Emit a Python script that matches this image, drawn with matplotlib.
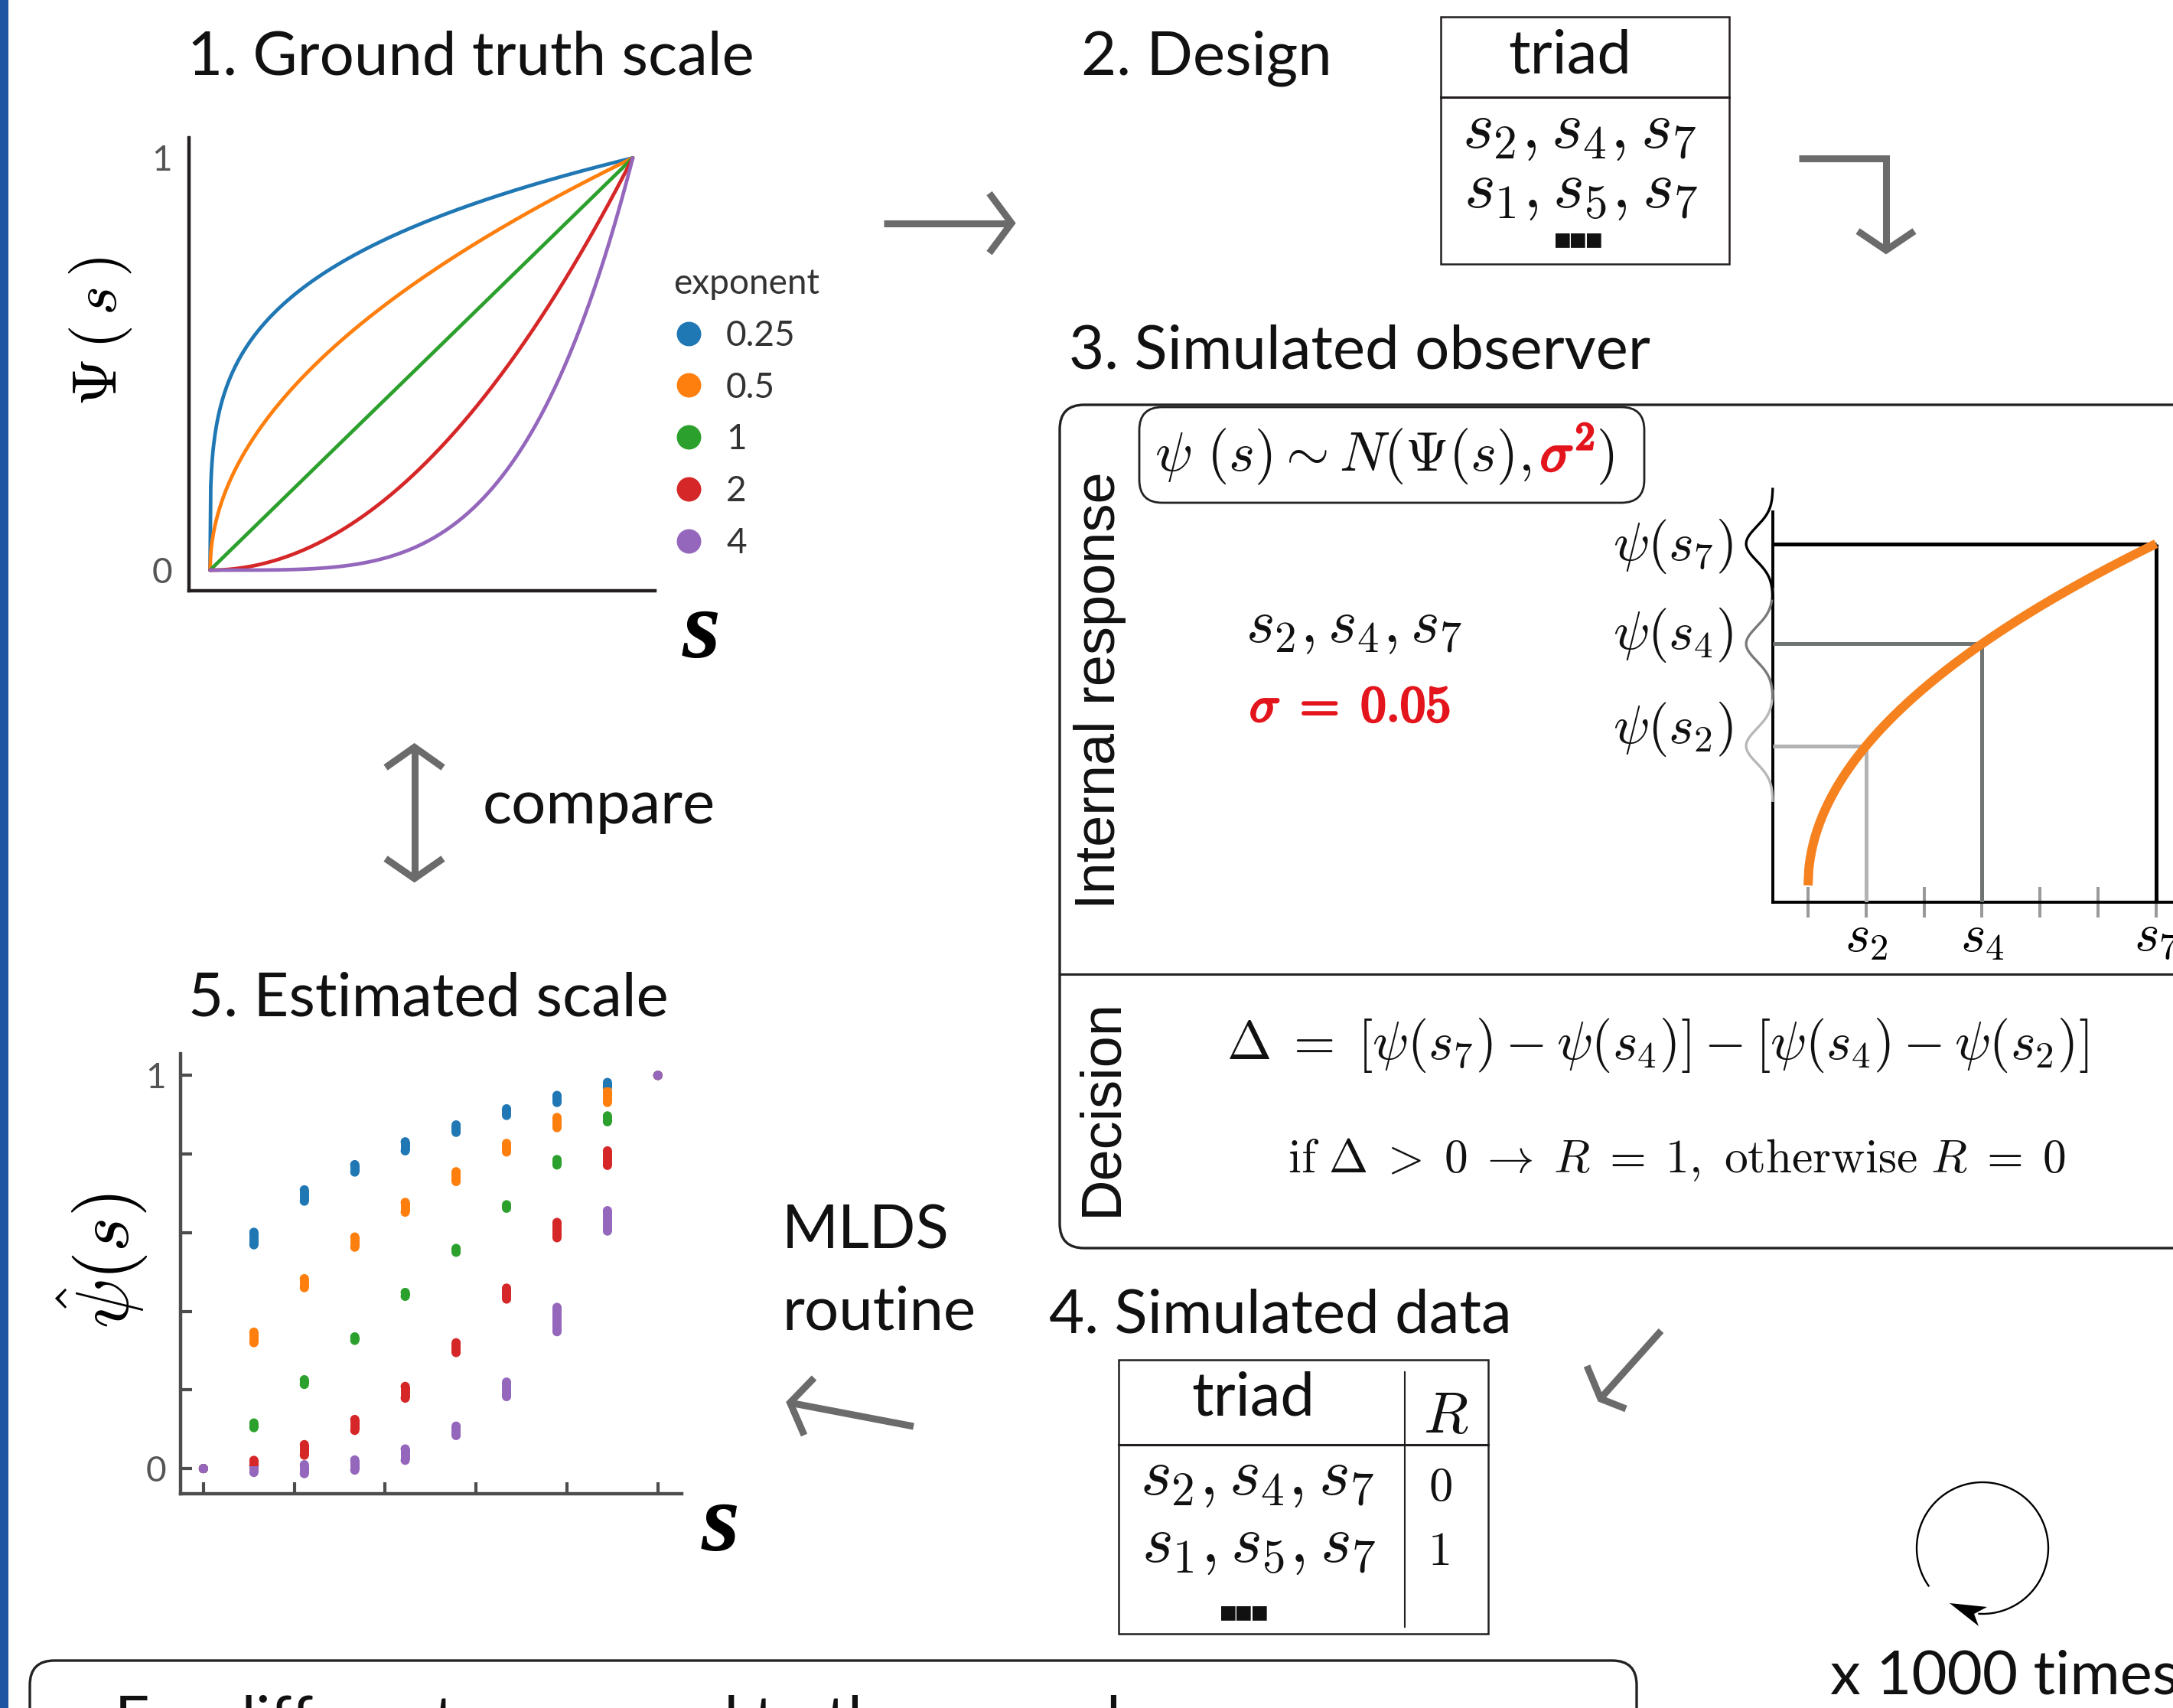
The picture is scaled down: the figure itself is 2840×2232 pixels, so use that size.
import numpy as np
import matplotlib
matplotlib.use('Agg')
import matplotlib.pyplot as plt
from matplotlib.patches import FancyBboxPatch, Rectangle, Polygon
from matplotlib.lines import Line2D
import matplotlib.patheffects as pe

plt.rcParams['mathtext.fontset'] = 'cm'
plt.rcParams['font.family'] = ['Lato', 'DejaVu Sans']
plt.rcParams['axes.unicode_minus'] = False

# ---------------- data ----------------
exponents = [0.25, 0.5, 1, 2, 4]
exponent_labels = ['0.25', '0.5', '1', '2', '4']
series_colors = ['#1f77b4', '#ff7f0e', '#2ca02c', '#d62728', '#9467bd']

stimulus_levels = [0.0, 0.111, 0.222, 0.333, 0.444, 0.556, 0.667, 0.778, 0.889, 1.0]
est_low_025 = [0.0, 0.569, 0.680, 0.754, 0.808, 0.855, 0.898, 0.931, 0.969, 1.0]
est_high_025 = [0.0, 0.601, 0.709, 0.773, 0.831, 0.874, 0.915, 0.949, 0.982, 1.0]
est_low_05 = [0.0, 0.320, 0.460, 0.563, 0.652, 0.730, 0.805, 0.867, 0.931, 1.0]
est_high_05 = [0.0, 0.347, 0.483, 0.589, 0.677, 0.755, 0.827, 0.893, 0.960, 1.0]
est_low_1 = [0.0, 0.104, 0.214, 0.326, 0.438, 0.550, 0.662, 0.772, 0.882, 1.0]
est_high_1 = [0.0, 0.116, 0.226, 0.335, 0.448, 0.560, 0.671, 0.786, 0.897, 1.0]
est_low_2 = [0.0, 0.007, 0.034, 0.097, 0.179, 0.295, 0.431, 0.587, 0.771, 1.0]
est_high_2 = [0.0, 0.021, 0.061, 0.125, 0.209, 0.320, 0.459, 0.626, 0.808, 1.0]
est_low_4 = [0.0, -0.010, -0.013, -0.004, 0.021, 0.084, 0.183, 0.348, 0.604, 1.0]
est_high_4 = [0.0, 0.007, 0.010, 0.022, 0.050, 0.108, 0.220, 0.410, 0.656, 1.0]
est_low = [est_low_025, est_low_05, est_low_1, est_low_2, est_low_4]
est_high = [est_high_025, est_high_05, est_high_1, est_high_2, est_high_4]

observer_stimuli = [1, 2, 3, 4, 5, 6, 7]
observer_ticklabels = ['', r'$s_2$', '', r'$s_4$', '', '', r'$s_7$']
observer_exponent = 0.5
observer_sigma = 0.05
triad_stimuli = [2, 4, 7]
triad_labels = [r'$\psi(s_2)$', r'$\psi(s_4)$', r'$\psi(s_7)$']
triad_colors = ['#b3b3b3', '#707472', '#000000']
bump_colors = ['#b8b8b8', '#7a7a7a', '#000000']

design_rows = [r'$s_2, s_4, s_7$', r'$s_1, s_5, s_7$']
responses = [r'$0$', r'$1$']

# ---------------- figure ----------------
W, H, DPI = 2840, 2232, 100
fig = plt.figure(figsize=(W / DPI, H / DPI), dpi=DPI)
fig.patch.set_facecolor('white')
R = fig.canvas.get_renderer()


def measure(s, size, **kw):
    t = fig.text(0, 0, s, fontsize=size, **kw)
    bb = t.get_window_extent(renderer=R)
    t.remove()
    return bb.width, bb.height


def fit(s, target, along='w', **kw):
    w, h = measure(s, 40, **kw)
    return 40 * target / (w if along == 'w' else h)


def px_axes(l, t, r, b):
    return fig.add_axes([l / W, 1 - b / H, (r - l) / W, (b - t) / H])


ax0 = fig.add_axes([0, 0, 1, 1])
ax0.set_xlim(0, W)
ax0.set_ylim(H, 0)
ax0.axis('off')

TXT = '#111111'
GRAY_ARROW = '#6b6b6b'
RED = '#e3141b'
BOLD_RED = [pe.withStroke(linewidth=2.2, foreground=RED)]

TS = fit('3. Simulated observer', 760)
LS = fit('0.25', 91)
LTS = fit('exponent', 191)
IRS = fit('Internal response', 572, along='h', rotation=90, family='Liberation Sans')
ROW = fit(design_rows[0], 307)

# dots glyphs ("..." drawn as black squares)
try:
    DOT_S = r'$\blacksquare\blacksquare\blacksquare$'
    DOTS = fit(DOT_S, 62)
    DOT_KW = {}
except Exception:
    DOT_S = '...'
    DOTS = fit(DOT_S, 60, family='Liberation Sans', weight='bold')
    DOT_KW = dict(family='Liberation Sans', weight='bold')

# left blue bar
ax0.add_patch(Rectangle((0, 0), 11, H, color='#1d55a2', lw=0))

# titles
for x, y, s in [(245, 98, '1. Ground truth scale'), (1413, 97, '2. Design'),
                (1397, 482, '3. Simulated observer'), (1371, 1741, '4. Simulated data'),
                (246, 1327, '5. Estimated scale')]:
    ax0.text(x, y, s, fontsize=TS, ha='left', va='baseline', color=TXT)

ax0.text(631, 1076, 'compare', fontsize=TS, ha='left', va='baseline', color=TXT)
ax0.text(1022, 1632, 'MLDS', fontsize=TS, ha='left', va='baseline', color=TXT)
ax0.text(1022, 1737, 'routine', fontsize=TS, ha='left', va='baseline', color=TXT)
ax0.text(2392, 2213, 'x 1000 times', fontsize=TS, ha='left', va='baseline', color=TXT)


# arrows
def chevron_arrow(shaft, head, lw=6.5):
    xs, ys = zip(*shaft)
    ax0.plot(xs, ys, color=GRAY_ARROW, lw=lw, solid_capstyle='butt', solid_joinstyle='miter')
    xs, ys = zip(*head)
    ax0.plot(xs, ys, color=GRAY_ARROW, lw=lw, solid_capstyle='butt', solid_joinstyle='miter')


chevron_arrow([(1155, 291.6), (1318, 291.6)], [(1293, 252.6), (1322, 291.6), (1293, 330.6)])
chevron_arrow([(2351, 207), (2465, 207), (2465, 322)], [(2428, 302), (2465, 327), (2502, 302)])
chevron_arrow([(541.6, 981), (541.6, 1144)], [(504, 1003), (541.6, 976.5), (579, 1003)])
ax0.plot([504, 541.6, 579], [1122, 1148, 1122], color=GRAY_ARROW, lw=6.5,
         solid_capstyle='butt', solid_joinstyle='miter')
chevron_arrow([(2171, 1739), (2095, 1824)], [(2074, 1785), (2092, 1828), (2125, 1841)])
chevron_arrow([(1194, 1864), (1037, 1834)], [(1064, 1800.6), (1032.6, 1833), (1051, 1875.4)])

# circular arrow
cx, cy, rr = 2591, 2023, 86
th = np.radians(np.linspace(215, -93, 200))
ax0.plot(cx + rr * np.cos(th), cy - rr * np.sin(th), color='black', lw=1.7)
ax0.add_patch(Polygon([(2548, 2095), (2597, 2100), (2580, 2109), (2586, 2125)],
                      closed=True, color='black', lw=0))

# ---------------- panel 2 table ----------------
ax0.add_patch(Rectangle((1883, 22), 377, 323, fill=False, ec='#231f20', lw=1.8))
ax0.plot([1883, 2260], [127, 127], color='#231f20', lw=2.2)
ax0.text(1971, 96, 'triad', fontsize=TS, ha='left', va='baseline', color=TXT)
ax0.text(2064, 173, design_rows[0], fontsize=ROW, ha='center', va='center', color=TXT)
ax0.text(2066, 250, design_rows[1], fontsize=ROW, ha='center', va='center', color=TXT)
if DOT_KW:
    ax0.text(2063, 321, DOT_S, fontsize=DOTS, ha='center', va='baseline', color=TXT, **DOT_KW)
else:
    ax0.text(2063, 315, DOT_S, fontsize=DOTS, ha='center', va='center', color=TXT)

# ---------------- panel 4 table ----------------
ax0.add_patch(Rectangle((1462, 1776.5), 483, 358.5, fill=False, ec='#231f20', lw=1.8))
ax0.plot([1462, 1945], [1888, 1888], color='#231f20', lw=2.2)
ax0.plot([1836, 1836], [1793, 2126], color='#231f20', lw=1.5)
ax0.text(1557, 1850, 'triad', fontsize=TS, ha='left', va='baseline', color=TXT)
ax0.text(1890, 1850, r'$R$', fontsize=fit(r'$R$', 60), ha='center', va='center', color=TXT)
ax0.text(1643, 1933, design_rows[0], fontsize=ROW, ha='center', va='center', color=TXT)
ax0.text(1645, 2021, design_rows[1], fontsize=ROW, ha='center', va='center', color=TXT)
RS = 45
ax0.text(1882, 1943, responses[0], fontsize=RS, ha='center', va='center', color=TXT)
ax0.text(1880, 2027, responses[1], fontsize=RS, ha='center', va='center', color=TXT)
if DOT_KW:
    ax0.text(1626, 2116, DOT_S, fontsize=DOTS, ha='center', va='baseline', color=TXT, **DOT_KW)
else:
    ax0.text(1626, 2109, DOT_S, fontsize=DOTS, ha='center', va='center', color=TXT)

# ---------------- panel 3 frame ----------------
ax0.add_patch(FancyBboxPatch((1385, 529), 1700, 1102, boxstyle='round,pad=0,rounding_size=32',
                             fill=False, ec='#222222', lw=2.4))
ax0.plot([1385, 2900], [1273, 1273], color='#222222', lw=2.2)
ax0.add_patch(FancyBboxPatch((1489, 532), 660, 125, boxstyle='round,pad=0,rounding_size=30',
                             fill=False, ec='#222222', lw=2.0))
ax0.text(1437, 902, 'Internal response', rotation=90, ha='center', va='center', fontsize=IRS,
         family='Liberation Sans', color=TXT)
ax0.text(1440, 1447, 'Decision', rotation=90, ha='center', va='center', fontsize=IRS,
         family='Liberation Sans', color=TXT)

# formula with red sigma^2
parts = [(r'$\psi\ (s) \sim N(\Psi(s),$', TXT, 12), (r'$\sigma^{\mathbf{2}}$', RED, 2),
         (r'$)$', TXT, 0)]
w20 = sum(measure(p, 20)[0] for p, _, _ in parts)
FS = 20 * 596 / w20
xpos = 1509
for p, c, gap in parts:
    t = ax0.text(xpos, 615, p, fontsize=FS, ha='left', va='baseline', color=c)
    if c == RED:
        t.set_path_effects(BOLD_RED)
    xpos += measure(p, FS)[0] + gap

ax0.text(1769, 820, r'$s_2, s_4, s_7$', fontsize=fit(r'$s_2, s_4, s_7$', 284),
         ha='center', va='center', color=TXT)
sig = r'$\sigma\;=\;\mathbf{0.05}$'
ax0.text(1764, 924, sig, fontsize=fit(sig, 262),
         ha='center', va='center', color=RED, path_effects=BOLD_RED)
d1 = r'$\Delta\;=\;[\psi(s_7) - \psi(s_4)] - [\psi(s_4) - \psi(s_2)]$'
ax0.text(2166, 1366, d1, fontsize=fit(d1, 1127), ha='center', va='center', color=TXT)
d2 = r'$\mathrm{if}\ \Delta\;>\;0\;\rightarrow\;R\;=\;1,\ \mathrm{otherwise}\ R\;=\;0$'
ax0.text(2191, 1516, d2, fontsize=fit(d2, 1017), ha='center', va='center', color=TXT)

PSZ = fit(triad_labels[2], 158)
for lab, y in zip(triad_labels, [953, 830, 714]):
    ax0.text(2265, y, lab, fontsize=PSZ, ha='right', va='center', color=TXT)

# ---------------- bottom box ----------------
ax0.add_patch(FancyBboxPatch((39, 2170), 2100, 300, boxstyle='round,pad=0,rounding_size=32',
                             fill=False, ec='#222222', lw=2.4))
ax0.text(150, 2272, 'For different compared to the ground', fontsize=TS, ha='left',
         va='baseline', color=TXT)

# ---------------- panel 1: ground truth ----------------
ax1 = px_axes(247, 180, 856, 772)
ax1.patch.set_visible(False)
ax1.set_xlim(-0.0498, 1.0525)
ax1.set_ylim(-0.050, 1.049)
s_fine = np.linspace(0, 1, 600)
for e, c, l in zip(exponents, series_colors, exponent_labels):
    ax1.plot(s_fine, s_fine ** e, color=c, lw=3.4, label=l, solid_capstyle='round')
for sp in ['top', 'right']:
    ax1.spines[sp].set_visible(False)
for sp in ['left', 'bottom']:
    ax1.spines[sp].set_color('#231f20')
    ax1.spines[sp].set_linewidth(3.2)
ax1.set_xticks([])
ax1.set_yticks([0, 1])
ax1.set_yticklabels(['0', '1'])
ax1.tick_params(axis='y', length=0, pad=16, labelsize=LS, labelcolor='#555555')
ax1.set_ylabel(r'$\Psi\,(\,s\,)$', fontsize=fit(r'$\Psi\,(\,s\,)$', 196), va='center', ha='center')
ax1.yaxis.set_label_coords(-0.190, 0.5726)
SX = fit('s', 50, family='Liberation Serif', style='italic', weight='bold')
ax1.set_xlabel('s', fontsize=SX, family='Liberation Serif', style='italic', weight='bold',
               va='center', ha='center')
ax1.xaxis.set_label_coords(1.100, -0.0946)
handles = [Line2D([], [], marker='o', ls='', color=c, markersize=23, markeredgewidth=0)
           for c in series_colors]
leg = ax1.legend(handles, exponent_labels, title='exponent', loc='upper left',
                 bbox_to_anchor=(880 / W, 1 - 350 / H), bbox_transform=fig.transFigure,
                 frameon=False, borderpad=0, borderaxespad=0, handlelength=0.88,
                 handletextpad=0.62, labelspacing=0.56, fontsize=LS, title_fontsize=LTS,
                 alignment='left', labelcolor='#333333')
leg.get_title().set_color('#333333')

# ---------------- panel 3: internal response plot ----------------
ax3 = px_axes(2317, 669, 2900, 1179)
ax3.patch.set_visible(False)
x_lo, y_lo = 0.393, -0.049
ax3.set_xlim(x_lo, 8.084)
ax3.set_ylim(y_lo, 1.093)
for sp in ['top', 'right']:
    ax3.spines[sp].set_visible(False)
for sp in ['left', 'bottom']:
    ax3.spines[sp].set_color('black')
    ax3.spines[sp].set_linewidth(2.8)
ax3.set_yticks([])
ax3.set_xticks(observer_stimuli)
ax3.set_xticklabels(observer_ticklabels)
ax3.tick_params(axis='x', direction='inout', length=29, width=2.9, color='#9a9a9a', pad=-4,
                labelsize=fit(r'$s_2$', 57))
obs_fine = np.linspace(observer_stimuli[0], observer_stimuli[-1], 500)
obs_psi = ((obs_fine - observer_stimuli[0]) / (observer_stimuli[-1] - observer_stimuli[0])) ** observer_exponent
for k, c, bc in zip(triad_stimuli, triad_colors, bump_colors):
    v = ((k - observer_stimuli[0]) / (observer_stimuli[-1] - observer_stimuli[0])) ** observer_exponent
    ax3.plot([x_lo, k], [v, v], color=c, lw=3.6, solid_capstyle='butt', zorder=3)
    ax3.plot([k, k], [v, y_lo], color=c, lw=3.6, solid_capstyle='butt', zorder=3)
    yy = np.linspace(v - 0.16, v + 0.16, 200)
    xx = x_lo - 0.46 * np.exp(-(yy - v) ** 2 / (2 * observer_sigma ** 2))
    ax3.plot(xx, yy, color=bc, lw=2.4, clip_on=False, zorder=4)
ax3.plot(obs_fine, obs_psi, color='#f5821f', lw=8.6, solid_capstyle='butt', zorder=5)

# ---------------- panel 5: estimated scale ----------------
ax5 = px_axes(236, 1377, 891, 1952)
ax5.patch.set_visible(False)
ax5.set_xlim(-0.0503, 1.0525)
ax5.set_ylim(-0.064, 1.055)
for c, lo, hi in zip(series_colors, est_low, est_high):
    ax5.vlines(stimulus_levels, lo, hi, colors=c, lw=8.6, capstyle='butt')
    ax5.scatter(stimulus_levels, lo, s=8.6 ** 2, color=c, edgecolors='none')
    ax5.scatter(stimulus_levels, hi, s=8.6 ** 2, color=c, edgecolors='none')
for sp in ['top', 'right']:
    ax5.spines[sp].set_visible(False)
for sp in ['left', 'bottom']:
    ax5.spines[sp].set_color('#4d4d4d')
    ax5.spines[sp].set_linewidth(3.2)
ax5.set_xticks([0, 0.2, 0.4, 0.6, 0.8, 1.0])
ax5.set_yticks([0, 0.2, 0.4, 0.6, 0.8, 1.0])
ax5.set_yticklabels(['0', '', '', '', '', '1'])
ax5.tick_params(axis='both', direction='in', length=10.8, width=3, color='#4d4d4d')
ax5.tick_params(axis='x', labelbottom=False)
ax5.tick_params(axis='y', pad=13.7, labelsize=LS, labelcolor='#555555')
ax5.set_ylabel(r'$\hat{\psi}(s)$', fontsize=fit(r'$\hat{\psi}(s)$', 178), va='center', ha='center')
ax5.yaxis.set_label_coords(-0.1557, 0.5287)
ax5.set_xlabel('s', fontsize=SX, family='Liberation Serif', style='italic', weight='bold',
               va='center', ha='center')
ax5.xaxis.set_label_coords(1.078, -0.0748)

fig.savefig('out.png', dpi=DPI)
